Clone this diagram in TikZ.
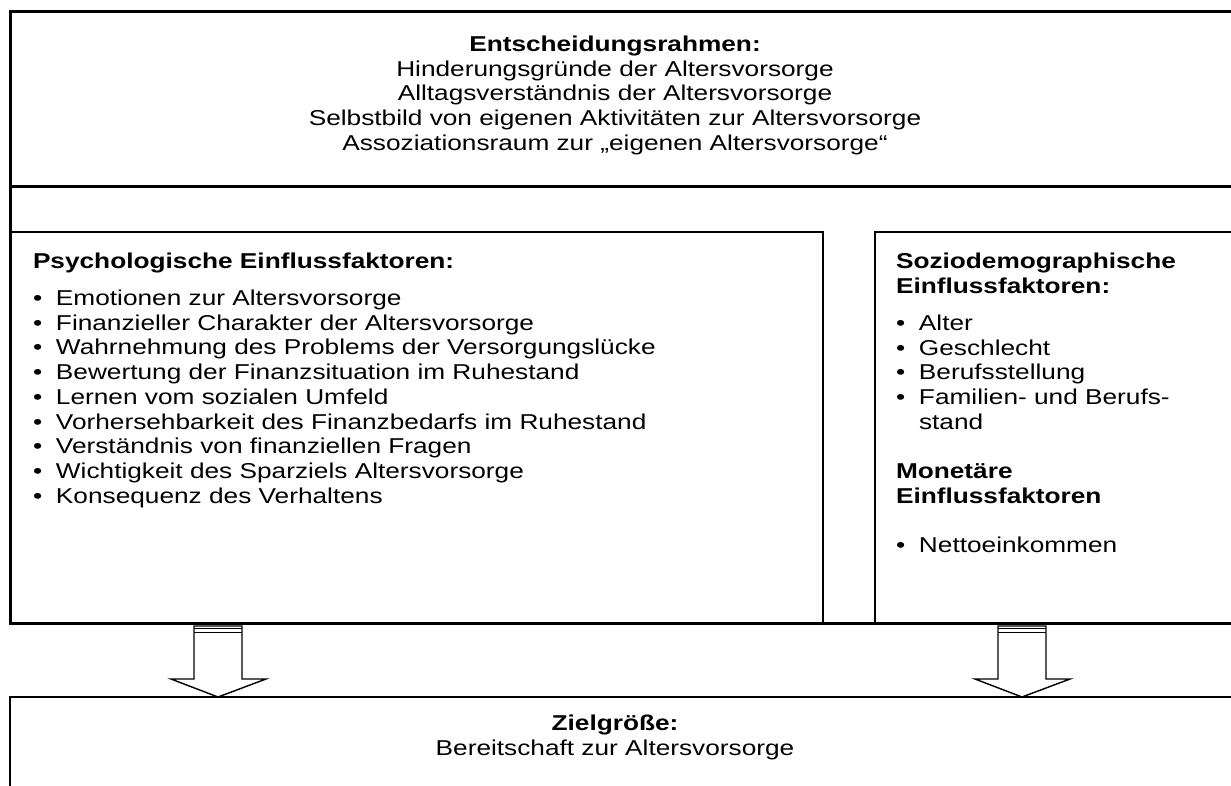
\documentclass[tikz,border=0pt]{standalone}
\usepackage{fontspec}
\setmainfont{Liberation Sans}[FakeStretch=1.22]
\usetikzlibrary{calc}

\tikzset{
  framebox/.style={draw, line width=3pt, inner sep=0pt, outer sep=0pt, anchor=north west},
  panel/.style={draw, line width=1.6pt, inner sep=0pt, outer sep=0pt, anchor=north west},
  txt/.style={inner sep=0pt, outer sep=0pt, font=\fontsize{21.5}{24.7}\selectfont},
  fatarrow/.style={draw, line width=1.4pt, fill=white, line join=miter},
  stripe/.style={line width=0.9pt},
}
\newcommand\bul{\makebox[23pt][l]{\textbullet}}

% draw one block arrow from the bottom of #1 to the top of #2 along the vertical through #3
\newcommand\blockarrow[3]{%
  \coordinate (T) at (#1.south -| #3);
  \coordinate (B) at (#2.north -| #3);
  \draw[fatarrow] ($(T)+(-24,3)$) -- ($(B)+(-24,-18)$) -- ($(B)+(-47,-18)$) -- (B)
    -- ($(B)+(48,-18)$) -- ($(B)+(24,-18)$) -- ($(T)+(24,3)$) -- cycle;
  \draw[stripe] ($(T)+(-24,5)$) -- ($(T)+(24,5)$);
  \draw[stripe] ($(T)+(-24,9.5)$) -- ($(T)+(24,9.5)$);
}

\begin{document}
\begin{tikzpicture}[x=1pt,y=-1pt]
\useasboundingbox (0,0) rectangle (1231,785);
\clip (0,0) rectangle (1231,785);

% outer frame and decision frame
\node[framebox, minimum width=1250pt, minimum height=612pt] (outer) at (10,11) {};
\node[framebox, minimum width=1250pt, minimum height=175pt] (rahmen) at (10,11) {};

% factor panels
\node[panel, minimum width=813pt, minimum height=391pt] (psych) at (10,232) {};
\node[panel, minimum width=400pt, minimum height=391pt] (sozio) at (875,232) {};

% target panel
\node[panel, minimum width=1250pt, minimum height=140pt] (ziel) at (10,697) {};

% texts
\node[txt, anchor=north, align=center] (rahmentext) at (615,36) {%
  \textbf{Entscheidungsrahmen:}\\
  Hinderungsgründe der Altersvorsorge\\
  Alltagsverständnis der Altersvorsorge\\
  Selbstbild von eigenen Aktivitäten zur Altersvorsorge\\
  Assoziationsraum zur „eigenen Altersvorsorge“};

\node[txt, anchor=north west, align=left] (psychtext) at (33,253) {%
  \textbf{Psychologische Einflussfaktoren:}\\[12.3pt]
  \bul Emotionen zur Altersvorsorge\\
  \bul Finanzieller Charakter der Altersvorsorge\\
  \bul Wahrnehmung des Problems der Versorgungslücke\\
  \bul Bewertung der Finanzsituation im Ruhestand\\
  \bul Lernen vom sozialen Umfeld\\
  \bul Vorhersehbarkeit des Finanzbedarfs im Ruhestand\\
  \bul Verständnis von finanziellen Fragen\\
  \bul Wichtigkeit des Sparziels Altersvorsorge\\
  \bul Konsequenz des Verhaltens};

\node[txt, anchor=north west, align=left] (soziotext) at (896,253) {%
  \textbf{Soziodemographische}\\
  \textbf{Einflussfaktoren:}\\[12.5pt]
  \bul Alter\\
  \bul Geschlecht\\
  \bul Berufsstellung\\
  \bul Familien- und Berufs-\\
  \hspace*{23pt}stand\\[24.5pt]
  \textbf{Monetäre}\\
  \textbf{Einflussfaktoren}\\[24.5pt]
  \bul Nettoeinkommen};

\node[txt, anchor=north, align=center] (zieltext) at (615,715) {%
  \textbf{Zielgröße:}\\
  Bereitschaft zur Altersvorsorge};

% block arrows
\coordinate (xl) at (218,0);
\coordinate (xr) at (1022,0);
\blockarrow{psych}{ziel}{xl}
\blockarrow{sozio}{ziel}{xr}
\end{tikzpicture}
\end{document}
